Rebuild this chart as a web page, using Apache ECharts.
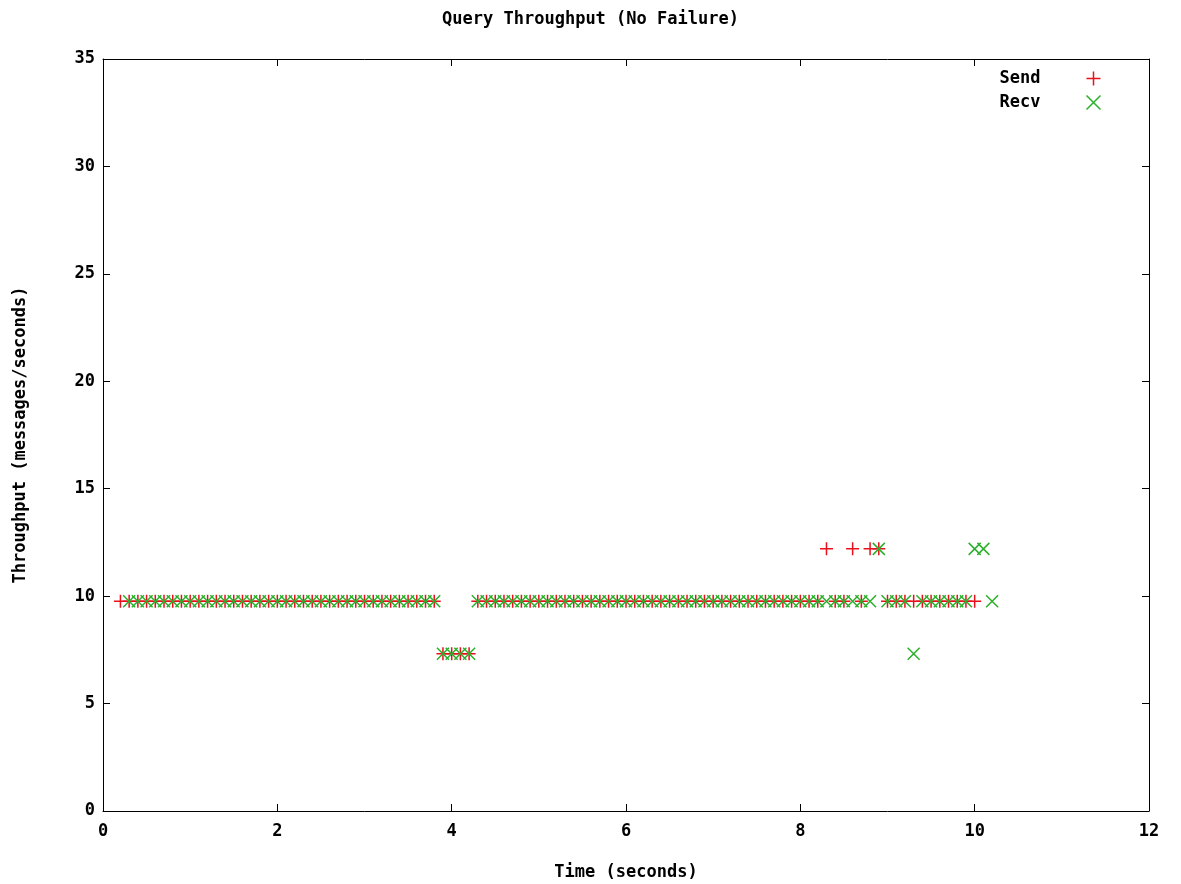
<!DOCTYPE html>
<html>
<head>
<meta charset="utf-8">
<script src="https://cdn.jsdelivr.net/npm/echarts@6/dist/echarts.min.js"></script>
<style>
html,body{margin:0;padding:0;background:#fff;}
#chart{width:1181px;height:884px;}
</style>
</head>
<body>
<div id="chart"></div>
<script>
const chartTitle = 'Query Throughput (No Failure)';
const xName = 'Time (seconds)';
const yName = 'Throughput (messages/seconds)';
const seriesNames = ['Send', 'Recv'];
const xTicks = [0, 2, 4, 6, 8, 10, 12];
const yTicks = [0, 5, 10, 15, 20, 25, 30, 35];

// [time, throughput]
const sendPoints = [
  [0.2,9.76],[0.3,9.76],[0.4,9.76],[0.5,9.76],[0.6,9.76],[0.7,9.76],[0.8,9.76],[0.9,9.76],
  [1.0,9.76],[1.1,9.76],[1.2,9.76],[1.3,9.76],[1.4,9.76],[1.5,9.76],[1.6,9.76],[1.7,9.76],
  [1.8,9.76],[1.9,9.76],[2.0,9.76],[2.1,9.76],[2.2,9.76],[2.3,9.76],[2.4,9.76],[2.5,9.76],
  [2.6,9.76],[2.7,9.76],[2.8,9.76],[2.9,9.76],[3.0,9.76],[3.1,9.76],[3.2,9.76],[3.3,9.76],
  [3.4,9.76],[3.5,9.76],[3.6,9.76],[3.7,9.76],[3.8,9.76],
  [3.9,7.32],[4.0,7.32],[4.1,7.32],[4.2,7.32],
  [4.3,9.76],[4.4,9.76],[4.5,9.76],[4.6,9.76],[4.7,9.76],[4.8,9.76],[4.9,9.76],[5.0,9.76],
  [5.1,9.76],[5.2,9.76],[5.3,9.76],[5.4,9.76],[5.5,9.76],[5.6,9.76],[5.7,9.76],[5.8,9.76],
  [5.9,9.76],[6.0,9.76],[6.1,9.76],[6.2,9.76],[6.3,9.76],[6.4,9.76],[6.5,9.76],[6.6,9.76],
  [6.7,9.76],[6.8,9.76],[6.9,9.76],[7.0,9.76],[7.1,9.76],[7.2,9.76],[7.3,9.76],[7.4,9.76],
  [7.5,9.76],[7.6,9.76],[7.7,9.76],[7.8,9.76],[7.9,9.76],[8.0,9.76],[8.1,9.76],[8.2,9.76],
  [8.3,12.2],[8.4,9.76],[8.5,9.76],[8.6,12.2],[8.7,9.76],[8.8,12.2],[8.9,12.2],
  [9.0,9.76],[9.1,9.76],[9.2,9.76],[9.3,9.76],[9.4,9.76],[9.5,9.76],[9.6,9.76],[9.7,9.76],
  [9.8,9.76],[9.9,9.76],[10.0,9.76]
];
const recvPoints = [
  [0.3,9.76],[0.4,9.76],[0.5,9.76],[0.6,9.76],[0.7,9.76],[0.8,9.76],[0.9,9.76],
  [1.0,9.76],[1.1,9.76],[1.2,9.76],[1.3,9.76],[1.4,9.76],[1.5,9.76],[1.6,9.76],[1.7,9.76],
  [1.8,9.76],[1.9,9.76],[2.0,9.76],[2.1,9.76],[2.2,9.76],[2.3,9.76],[2.4,9.76],[2.5,9.76],
  [2.6,9.76],[2.7,9.76],[2.8,9.76],[2.9,9.76],[3.0,9.76],[3.1,9.76],[3.2,9.76],[3.3,9.76],
  [3.4,9.76],[3.5,9.76],[3.6,9.76],[3.7,9.76],[3.8,9.76],
  [3.9,7.32],[4.0,7.32],[4.1,7.32],[4.2,7.32],
  [4.3,9.76],[4.4,9.76],[4.5,9.76],[4.6,9.76],[4.7,9.76],[4.8,9.76],[4.9,9.76],[5.0,9.76],
  [5.1,9.76],[5.2,9.76],[5.3,9.76],[5.4,9.76],[5.5,9.76],[5.6,9.76],[5.7,9.76],[5.8,9.76],
  [5.9,9.76],[6.0,9.76],[6.1,9.76],[6.2,9.76],[6.3,9.76],[6.4,9.76],[6.5,9.76],[6.6,9.76],
  [6.7,9.76],[6.8,9.76],[6.9,9.76],[7.0,9.76],[7.1,9.76],[7.2,9.76],[7.3,9.76],[7.4,9.76],
  [7.5,9.76],[7.6,9.76],[7.7,9.76],[7.8,9.76],[7.9,9.76],[8.0,9.76],[8.1,9.76],[8.2,9.76],
  [8.3,9.76],[8.4,9.76],[8.5,9.76],[8.6,9.76],[8.7,9.76],[8.8,9.76],[8.9,12.2],
  [9.0,9.76],[9.1,9.76],[9.2,9.76],[9.3,7.32],[9.4,9.76],[9.5,9.76],[9.6,9.76],[9.7,9.76],
  [9.8,9.76],[9.9,9.76],[10.0,12.2],[10.1,12.2],[10.2,9.76]
];

const FONT = '"DejaVu Sans Mono", "Liberation Mono", monospace';
const txt = {fontFamily: FONT, fontWeight: 'bold', fontSize: 17, color: '#000'};
const plusPath = 'path://M0,6.5L13,6.5M6.5,0L6.5,13';
const crossPath = 'path://M0,0L12,12M12,0L0,12';

function xAxisCfg(pos, show) {
  return {
    type: 'value', position: pos, min: xTicks[0], max: xTicks[xTicks.length-1], interval: 2,
    axisLine: {show: true, onZero: false, lineStyle: {color: '#000', width: 1}},
    axisTick: {show: true, inside: true, length: 7, lineStyle: {color: '#000'}},
    axisLabel: {show: show, margin: 12, ...txt},
    splitLine: {show: false},
    name: show ? xName : '', nameLocation: 'middle', nameGap: 53, nameTextStyle: txt
  };
}
function yAxisCfg(pos, show) {
  return {
    type: 'value', position: pos, min: yTicks[0], max: yTicks[yTicks.length-1], interval: 5,
    axisLine: {show: true, onZero: false, lineStyle: {color: '#000', width: 1}},
    axisTick: {show: true, inside: true, length: 7, lineStyle: {color: '#000'}},
    axisLabel: {show: show, margin: 8, ...txt},
    splitLine: {show: false},
    name: show ? yName : '', nameLocation: 'middle', nameGap: 74, nameRotate: 90, nameTextStyle: txt
  };
}

const chart = echarts.init(document.getElementById('chart'), null, {renderer: 'canvas'});
chart.setOption({
  animation: false,
  backgroundColor: '#fff',
  title: {text: chartTitle, left: 'center', top: 6, textStyle: txt},
  grid: {left: 103, right: 32, top: 59, bottom: 73, containLabel: false, outerBoundsMode: 'none'},
  legend: {
    orient: 'vertical', right: 73, top: 64, align: 'right', itemGap: 5,
    itemWidth: 14, itemHeight: 14,
    formatter: function (name) { return name + '    '; },
    textStyle: txt,
    data: [
      {name: seriesNames[0], icon: plusPath, itemStyle: {color: 'none', borderColor: '#e8101b', borderWidth: 1.5}},
      {name: seriesNames[1], icon: crossPath, itemStyle: {color: 'none', borderColor: '#2bb02b', borderWidth: 1.5}}
    ]
  },
  xAxis: [xAxisCfg('bottom', true), xAxisCfg('top', false)],
  yAxis: [yAxisCfg('left', true), yAxisCfg('right', false)],
  series: [
    {
      name: seriesNames[0], type: 'scatter', data: sendPoints,
      symbol: plusPath, symbolSize: 13,
      itemStyle: {color: 'none', borderColor: '#e8101b', borderWidth: 1.5, opacity: 1}
    },
    {
      name: seriesNames[1], type: 'scatter', data: recvPoints,
      symbol: crossPath, symbolSize: 12,
      itemStyle: {color: 'none', borderColor: '#2bb02b', borderWidth: 1.5, opacity: 1}
    }
  ]
});
</script>
</body>
</html>
